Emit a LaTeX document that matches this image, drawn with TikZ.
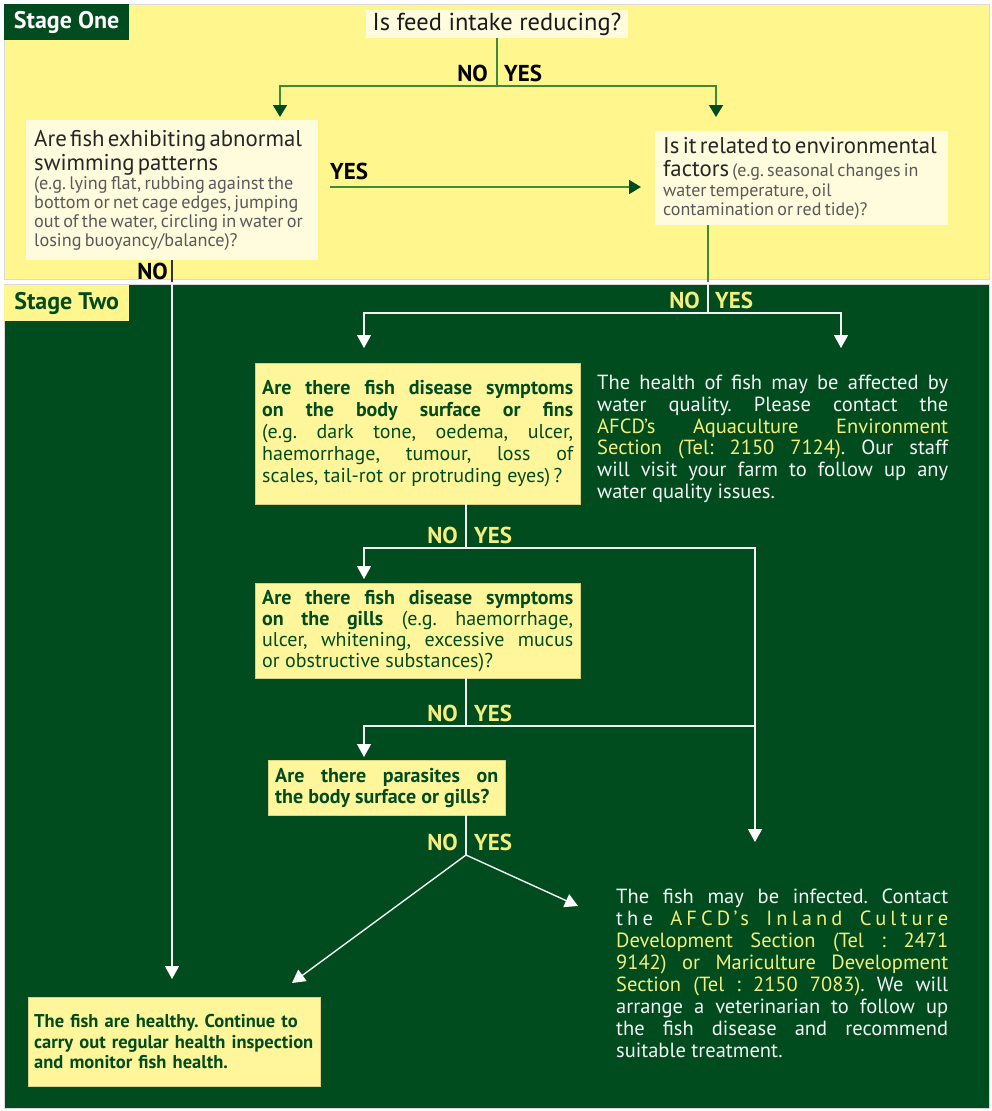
\documentclass[tikz,border=0pt]{standalone}
\usepackage{fontspec}
\setmainfont{PT Sans}
\usetikzlibrary{arrows.meta}

\definecolor{darkgreen}{HTML}{004C1E}
\definecolor{paleyellow}{HTML}{FFF68E}
\definecolor{boxyellow}{HTML}{FFF59B}
\definecolor{cream}{HTML}{FFFCDD}
\definecolor{lightyellow}{HTML}{F4EE7E}
\definecolor{linegreen}{HTML}{3C8A3C}

\frenchspacing
\begin{document}
\begin{tikzpicture}[x=1pt,y=-1pt,
    stagelabel/.style={anchor=north west,minimum width=125pt,minimum height=36pt,
        font=\bfseries\fontsize{24}{26}\selectfont},
    question/.style={fill=cream,anchor=north west,inner xsep=8pt,inner ysep=4pt,
        align=left,text=black!85},
    greenbox/.style={fill=boxyellow,draw=boxyellow!85!black,anchor=north west,
        inner xsep=7pt,inner ysep=4pt,align=justify,text=darkgreen},
    notetext/.style={anchor=north west,inner sep=0pt,align=justify,text=white!92!gray},
    answer/.style={font=\bfseries\fontsize{23}{25}\selectfont,inner sep=0pt},
    gline/.style={linegreen,line width=1.6pt},
    garrow/.style={gline,-{Triangle[length=12pt,width=14pt,color=darkgreen]}},
    darkline/.style={black!80,line width=1.4pt},
    wline/.style={white!90!gray,line width=1.4pt},
    warrow/.style={wline,-{Triangle[length=13pt,width=14pt,color=white]}}]

    % the two stages
    \fill[white] (0,0) rectangle (992,1111);
    \filldraw[fill=paleyellow,draw=black!15] (4,4) rectangle (989,279);
    \filldraw[fill=darkgreen,draw=black!15] (4,284) rectangle (989,1108);
    \node[stagelabel,fill=darkgreen,text=white] (stageone) at (4,4) {Stage One};
    \node[stagelabel,fill=paleyellow,text=darkgreen] (stagetwo) at (4,285) {Stage Two};

    % stage one
    \node[fill=cream,minimum width=262pt,minimum height=28pt,inner sep=0pt,
        font=\fontsize{24.5}{26}\selectfont,text=black!90] (feed) at (497,24) {Is feed intake reducing?};
    \node[question,text width=276pt,minimum height=140pt] (swim) at (26,120)
        {{\fontsize{22.8}{23.5}\selectfont Are fish exhibiting abnormal\\ swimming patterns\par}
         {\fontsize{18.2}{19}\selectfont\color{black!65}(e.g. lying flat, rubbing against the\\
          bottom or net cage edges, jumping\\ out of the water, circling in water or\\
          losing buoyancy/balance)?\par}};
    \node[question,text width=277pt,minimum height=94pt] (env) at (655,131)
        {{\fontsize{22.8}{24}\selectfont Is it related to environmental\par}\vspace{4pt}
         {\fontsize{22.8}{19.5}\selectfont factors} {\fontsize{18}{19.5}\selectfont\color{black!65}(e.g. seasonal changes in\\
          water temperature, oil\\ contamination or red tide)?\par}};

    % stage two
    \node[greenbox,text width=311pt,minimum height=141pt,font=\fontsize{20}{22}\selectfont] (body) at (255,363)
        {\textbf{Are there fish disease symptoms\linebreak on the body surface or fins}
         (e.g. dark tone, oedema, ulcer,\linebreak haemorrhage, tumour, loss of\linebreak
         scales, tail-rot or protruding eyes)\,?};
    \node[greenbox,text width=311pt,minimum height=95pt,font=\fontsize{20}{21}\selectfont] (gills) at (255,583)
        {\textbf{Are there fish disease symptoms\linebreak on the gills} (e.g. haemorrhage,\linebreak
         ulcer, whitening, excessive mucus\linebreak or obstructive substances)?};
    \node[greenbox,text width=223pt,minimum height=55pt,font=\bfseries\fontsize{20}{21}\selectfont] (para) at (268,760)
        {Are there parasites on\linebreak the body surface or gills?};
    \node[greenbox,align=left,inner xsep=6pt,text width=280pt,minimum height=89pt,
        font=\bfseries\fontsize{18.5}{20.5}\selectfont] (healthy) at (28,997)
        {The fish are healthy. Continue to\\ carry out regular health inspection\\ and monitor fish health.};
    \node[notetext,text width=351pt,font=\fontsize{20.5}{21.7}\selectfont] (water) at (597,375)
        {The health of fish may be affected by\linebreak water quality. Please contact the\linebreak
         {\color{lightyellow}AFCD’s Aquaculture Environment\linebreak Section (Tel: 2150 7124)}. Our staff\linebreak
         will visit your farm to follow up any\linebreak water quality issues.};
    \node[notetext,text width=332pt,font=\fontsize{20.5}{21.9}\selectfont] (infected) at (616,889)
        {The fish may be infected. Contact\linebreak
         {\addfontfeature{LetterSpace=20}the {\color{lightyellow}AFCD’s Inland Culture}}\linebreak
         {\color{lightyellow}Development Section (Tel : 2471\linebreak 9142) or Mariculture Development\linebreak
         Section (Tel : 2150 7083)}. We will\linebreak arrange a veterinarian to follow up\linebreak
         the fish disease and recommend\linebreak suitable treatment.};

    % split points and arrow ends
    \coordinate (fsplit) at (497,86);
    \coordinate (swimin) at (280,117);
    \coordinate (envin) at (716,117);
    \coordinate (yesstart) at (330,187);
    \coordinate (nox) at (172,0);
    \coordinate (esplit) at (708,313);
    \coordinate (bodyin) at (364,348);
    \coordinate (waterin) at (841,348);
    \coordinate (bsplit) at (466,548);
    \coordinate (gillsin) at (364,579);
    \coordinate (infectin) at (755,842);
    \coordinate (gsplit) at (466,726);
    \coordinate (parain) at (364,757);
    \coordinate (psplit) at (466,855);
    \coordinate (healthyin) at (292,983);
    \coordinate (infectedin) at (578,906);

    % stage one connectors
    \draw[gline] (feed) -- (fsplit);
    \draw[garrow] (fsplit) -| (swimin);
    \draw[garrow] (fsplit) -| (envin);
    \node[answer,anchor=south east] at ([xshift=-9pt,yshift=4pt]fsplit) {NO};
    \node[answer,anchor=south west] at ([xshift=7pt,yshift=4pt]fsplit) {YES};
    \draw[garrow,shorten >=14pt] (yesstart) -- (yesstart -| env.west);
    \node[answer,anchor=south west] at ([yshift=7pt]yesstart) {YES};

    % NO from stage one down to the healthy fish
    \draw[warrow,shorten >=18pt] (swim.south -| nox) -- (healthy.north -| nox);
    \draw[wline] (env.south -| esplit) -- (esplit);
    \begin{scope}
        \clip (4,4) rectangle (989,281.5);
        \draw[darkline] (swim.south -| nox) -- (healthy.north -| nox);
        \draw[gline] (env.south -| esplit) -- (esplit);
    \end{scope}
    \node[answer,anchor=north east] at ([xshift=-4pt,yshift=-2pt]swim.south -| nox) {NO};

    % stage two connectors
    \draw[warrow] (esplit) -| (bodyin);
    \draw[warrow] (esplit) -| (waterin);
    \node[answer,text=lightyellow,anchor=south east] at ([xshift=-8pt,yshift=4pt]esplit) {NO};
    \node[answer,text=lightyellow,anchor=south west] at ([xshift=7pt,yshift=4pt]esplit) {YES};

    \draw[wline] (body.south -| bsplit) -- (bsplit);
    \draw[warrow] (bsplit) -| (gillsin);
    \draw[warrow] (bsplit) -| (infectin);
    \node[answer,text=lightyellow,anchor=south east] at ([xshift=-8pt,yshift=4pt]bsplit) {NO};
    \node[answer,text=lightyellow,anchor=south west] at ([xshift=8pt,yshift=4pt]bsplit) {YES};

    \draw[wline] (gills.south -| gsplit) -- (gsplit);
    \draw[warrow] (gsplit) -| (parain);
    \draw[wline] (gsplit) -- (gsplit -| infectin);
    \node[answer,text=lightyellow,anchor=south east] at ([xshift=-8pt,yshift=4pt]gsplit) {NO};
    \node[answer,text=lightyellow,anchor=south west] at ([xshift=8pt,yshift=4pt]gsplit) {YES};

    \draw[wline] (para.south -| psplit) -- (psplit);
    \draw[warrow] (psplit) -- (healthyin);
    \draw[warrow] (psplit) -- (infectedin);
    \node[answer,text=lightyellow,anchor=south east] at ([xshift=-8pt,yshift=4pt]psplit) {NO};
    \node[answer,text=lightyellow,anchor=south west] at ([xshift=8pt,yshift=4pt]psplit) {YES};
\end{tikzpicture}
\end{document}
